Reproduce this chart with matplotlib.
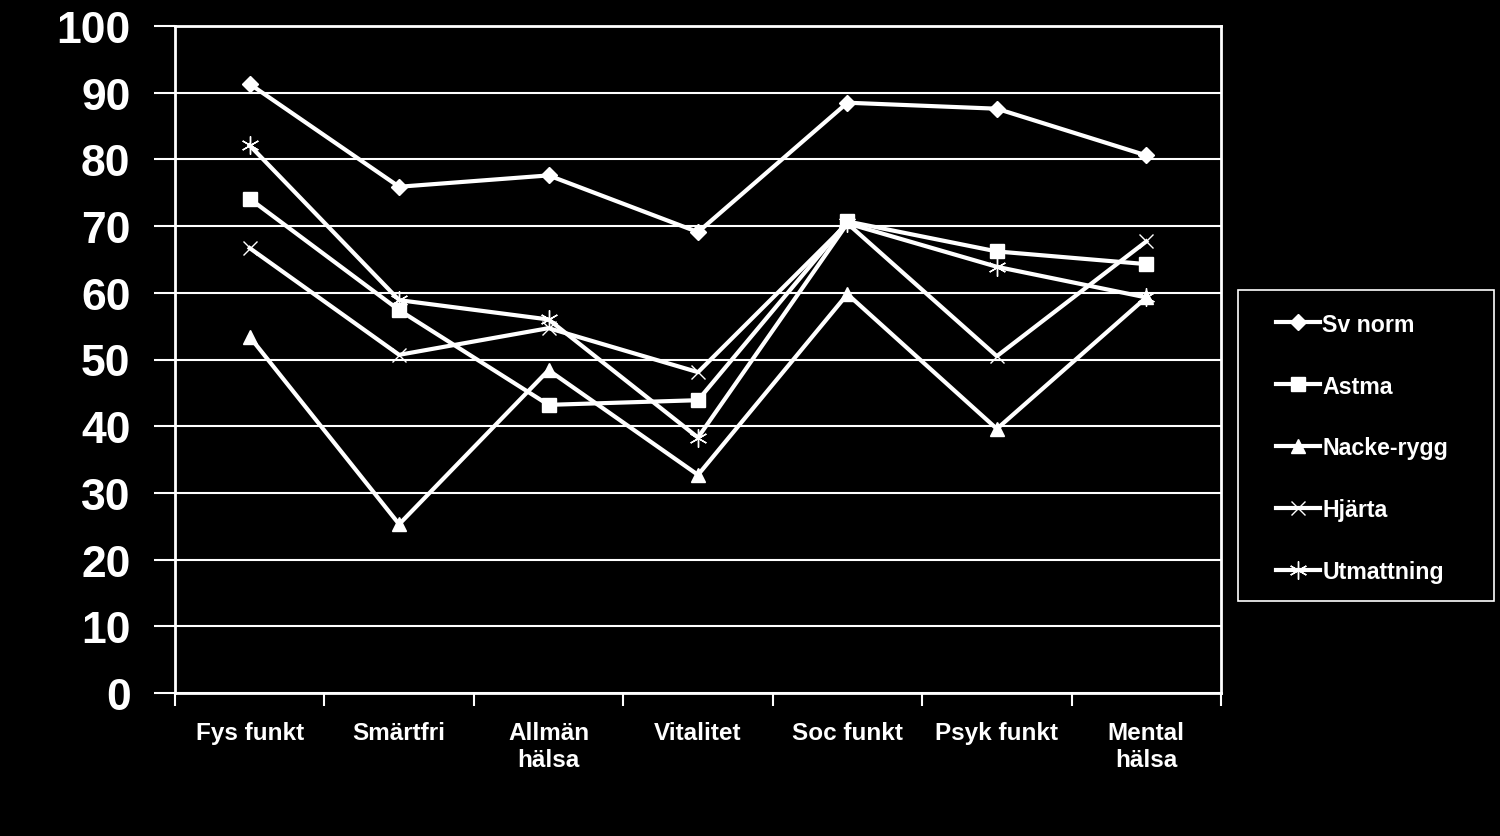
import matplotlib
matplotlib.use("Agg")
import matplotlib.pyplot as plt
from matplotlib.ticker import FixedLocator, NullFormatter
from matplotlib.patches import Rectangle

categories = ["Fys funkt", "Smärtfri", "Allmän\nhälsa", "Vitalitet", "Soc funkt", "Psyk funkt", "Mental\nhälsa"]
sv_norm = [91.3, 75.9, 77.6, 69.1, 88.5, 87.6, 80.6]
astma = [74.1, 57.4, 43.2, 43.9, 70.7, 66.2, 64.3]
nacke_rygg = [53.4, 25.3, 48.4, 32.7, 59.8, 39.6, 59.3]
hjarta = [66.7, 50.7, 54.7, 48.1, 70.4, 50.5, 67.7]
utmattning = [82.1, 58.9, 56.0, 38.3, 70.4, 63.9, 59.3]
series_names = ["Sv norm", "Astma", "Nacke-rygg", "Hjärta", "Utmattning"]
y_ticks = [0, 10, 20, 30, 40, 50, 60, 70, 80, 90, 100]

plt.rcParams['font.family'] = ['Liberation Sans', 'DejaVu Sans']
plt.rcParams['font.weight'] = 'bold'

W, H = 1500, 837
fig = plt.figure(figsize=(15, 8.37), dpi=100, facecolor='black')
ax = fig.add_axes([175/W, 1-694/H, (1221-175)/W, (694-27)/H])
ax.set_facecolor('black')

x = list(range(len(categories)))
styles = [
    dict(marker='D', ms=8, mew=1),
    dict(marker='s', ms=10, mew=1),
    dict(marker='^', ms=10, mew=1),
    dict(marker='x', ms=10, mew=1.0),
    dict(marker=(6, 2, 0), ms=13, mew=1.0),
]
data = [sv_norm, astma, nacke_rygg, hjarta, utmattning]
for name, vals, st in zip(series_names, data, styles):
    ax.plot(x, vals, color='white', lw=3, mfc='white', mec='white', label=name, **st)

ax.set_xlim(-0.5, len(categories) - 0.5)
ax.set_ylim(0, 100)
ax.set_yticks(y_ticks)
ax.set_yticklabels([str(t) for t in y_ticks], fontsize=32, fontweight='bold', color='white')
ax.yaxis.grid(True, color='white', lw=1.5)
ax.set_axisbelow(True)
ax.tick_params(axis='y', length=15, width=1.5, color='white', pad=17)

ax.set_xticks(x)
ax.set_xticklabels(categories, fontsize=17.5, fontweight='bold', color='white', linespacing=1.25)
ax.tick_params(axis='x', length=0, pad=20)
ax.xaxis.set_minor_locator(FixedLocator([i - 0.5 for i in range(len(categories) + 1)]))
ax.xaxis.set_minor_formatter(NullFormatter())
ax.tick_params(axis='x', which='minor', length=9, width=1.5, color='white')

for s in ax.spines.values():
    s.set_color('white')
    s.set_linewidth(2)

# legend frame
fig.patches.append(Rectangle((1238/W, 1-602/H), (1494-1238)/W, (602-291)/H,
                             transform=fig.transFigure, facecolor='black',
                             edgecolor='white', lw=1.2, zorder=0))

handles, labels = ax.get_legend_handles_labels()
leg = fig.legend(handles, labels, loc='center left',
                 bbox_to_anchor=(1276/W, 1-449/H), frameon=False,
                 labelcolor='white', prop=dict(family='Liberation Sans', weight='bold', size=16.7),
                 handlelength=1.9, handletextpad=0.1, labelspacing=1.68, borderpad=0, borderaxespad=0)

fig.savefig('out.png', dpi=100, facecolor='black')
